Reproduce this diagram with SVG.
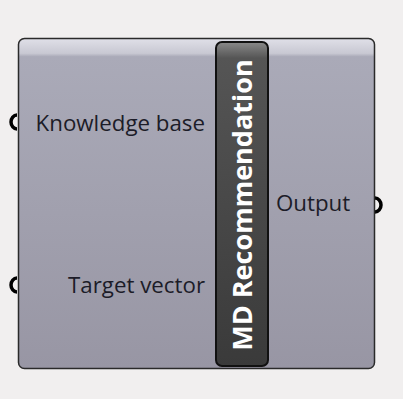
<svg xmlns="http://www.w3.org/2000/svg" width="403" height="399" viewBox="0 0 403 399">
<defs>
<linearGradient id="body" x1="0" y1="0" x2="0" y2="1">
<stop offset="0" stop-color="#e0e0e8"/>
<stop offset="0.045" stop-color="#c8c8d2"/>
<stop offset="0.055" stop-color="#aaaab8"/>
<stop offset="1" stop-color="#9896a4"/>
</linearGradient>
<linearGradient id="bar" x1="0" y1="0" x2="0" y2="1">
<stop offset="0" stop-color="#8a8a8a"/>
<stop offset="0.05" stop-color="#555555"/>
<stop offset="1" stop-color="#3a3a3a"/>
</linearGradient>
<style>
.lbl{font-family:"Open Sans","Noto Sans",sans-serif;font-size:22.3px;fill:#1c1c28}
.title{font-family:"Open Sans","Noto Sans",sans-serif;font-size:27px;font-weight:bold;fill:#ffffff}
.grip{fill:none;stroke:#000;stroke-width:3.5}
</style>
</defs>
<rect width="403" height="399" fill="#f1efef"/>
<g id="connectors">
<path class="grip" d="M17,115 A6,7 0 0 0 17,129"/>
<path class="grip" d="M17,278 A6,7 0 0 0 17,292"/>
<path class="grip" d="M375,198 A6,7 0 0 1 375,212"/>
</g>
<g id="component">
<rect x="18.5" y="38.5" width="356" height="330" rx="6" fill="url(#body)" stroke="#2a2a2a" stroke-width="1.5"/>
</g>
<g id="input-knowledge">
<text class="lbl" x="205" y="131" text-anchor="end">Knowledge base</text>
</g>
<g id="input-target">
<text class="lbl" x="205" y="293" text-anchor="end">Target vector</text>
</g>
<g id="output">
<text class="lbl" x="276" y="211">Output</text>
</g>
<g id="title">
<rect x="216" y="42" width="52" height="324" rx="6" fill="url(#bar)" stroke="#111" stroke-width="2"/>
<text class="title" transform="translate(252,205) rotate(-90)" text-anchor="middle">MD Recommendation</text>
</g>
</svg>
